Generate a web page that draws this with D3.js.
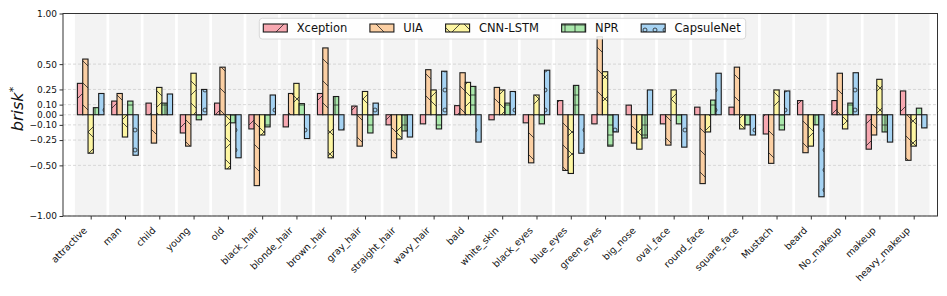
<!DOCTYPE html>
<html>
<head>
<meta charset="utf-8">
<script src="https://cdn.jsdelivr.net/npm/d3@7"></script>
<style>
body { margin: 0; background: #fff; }
text { font-family: "DejaVu Sans", sans-serif; }
</style>
</head>
<body>
<div id="chart"></div>
<script>
var categories = ["attractive", "man", "child", "young", "old", "black_hair", "blonde_hair",
    "brown_hair", "gray_hair", "straight_hair", "wavy_hair", "bald", "white_skin", "black_eyes",
    "blue_eyes", "green_eyes", "big_nose", "oval_face", "round_face", "square_face", "Mustach",
    "beard", "No_makeup", "makeup", "heavy_makeup"];

var seriesNames = ["Xception", "UIA", "CNN-LSTM", "NPR", "CapsuleNet"];

var xception = [0.31, 0.135, 0.115, -0.18, 0.115, -0.14, -0.12, 0.21, 0.086, -0.10, -0.09, 0.09, -0.05,
    -0.08, 0.14, -0.09, 0.095, -0.09, 0.075, 0.075, -0.19, 0.14, 0.14, -0.34, 0.235];
var uia = [0.55, 0.21, -0.28, -0.31, 0.47, -0.70, 0.21, 0.66, -0.31, -0.425, 0.445, 0.415, 0.27,
    -0.475, -0.55, 0.77, -0.28, -0.30, -0.68, 0.47, -0.48, -0.375, 0.41, -0.20, -0.45];
var cnnLstm = [-0.38, -0.22, 0.27, 0.41, -0.535, -0.20, 0.31, -0.425, 0.23, -0.24, 0.245, 0.32, 0.245,
    0.195, -0.58, 0.425, -0.34, 0.245, -0.17, -0.14, 0.245, -0.31, -0.14, 0.35, -0.31];
var npr = [0.07, 0.135, 0.115, -0.05, -0.08, -0.12, 0.11, 0.18, -0.18, -0.16, -0.14, 0.28, 0.115,
    -0.09, 0.29, -0.31, -0.23, -0.09, 0.145, -0.10, -0.15, -0.10, 0.115, -0.17, 0.065];
var capsuleNet = [0.21, -0.40, 0.205, 0.25, -0.425, 0.195, -0.235, -0.15, 0.115, -0.22, 0.43, -0.27, 0.23,
    0.44, -0.38, -0.17, 0.245, -0.32, 0.41, -0.20, 0.235, -0.81, 0.415, -0.27, -0.13];

var yTicks = [1, 0.5, 0.25, 0.1, 0, -0.1, -0.25, -0.5, -1];

var allSeries = [xception, uia, cnnLstm, npr, capsuleNet];
var colors = ["#f7a8b1", "#fbcfa3", "#fdf6a2", "#a9e8ab", "#a6d3f3"];
var hatches = ["/", "\\", "x", "+", "o"];

var width = 947, height = 296;
var plotLeft = 63, plotRight = 937.5, plotTop = 13.5, plotBottom = 216;

var svg = d3.select("#chart")
    .append("svg")
    .attr("width", width)
    .attr("height", height)
    .style("display", "block");

// hatch patterns
var defs = svg.append("defs");
hatches.forEach(function (h, i) {
    var size = (h == "+") ? 10 : (h == "o" ? 10 : 22);
    var ph = (h == "o") ? 20 : size;
    var p = defs.append("pattern")
        .attr("id", "hatch-" + i)
        .attr("patternUnits", "userSpaceOnUse")
        .attr("width", size)
        .attr("height", ph);
    p.append("rect").attr("width", size).attr("height", ph).attr("fill", colors[i]);
    var ln = function (x1, y1, x2, y2) {
        p.append("line").attr("x1", x1).attr("y1", y1).attr("x2", x2).attr("y2", y2)
            .attr("stroke", "#222").attr("stroke-width", 0.8);
    };
    if (h == "/" || h == "x") { ln(0, size, size, 0); ln(-2, 2, 2, -2); ln(size - 2, size + 2, size + 2, size - 2); }
    if (h == "\\" || h == "x") { ln(0, 0, size, size); ln(-2, size - 2, 2, size + 2); ln(size - 2, -2, size + 2, 2); }
    if (h == "+") { ln(0, 5, size, 5); ln(5, 0, 5, size); }
    if (h == "o") {
        p.append("circle").attr("cx", 5).attr("cy", 10).attr("r", 2)
            .attr("fill", "none").attr("stroke", "#222").attr("stroke-width", 0.8);
    }
});

var xScale = d3.scalePoint()
    .domain(categories)
    .range([90.7, 913.7]);

var step = xScale.step();

var offset = d3.scaleBand()
    .domain(seriesNames)
    .range([-13.3, 13.3]);

var yScale = d3.scaleLinear()
    .domain([-1, 1])
    .range([plotBottom, plotTop]);

// category bands
svg.append("g")
    .selectAll("rect")
    .data(categories)
    .enter()
    .append("rect")
    .attr("x", d => xScale(d) - 15.8)
    .attr("y", plotTop)
    .attr("width", 31.6)
    .attr("height", plotBottom - plotTop)
    .attr("fill", "#f3f3f3");

// grid
svg.append("g")
    .selectAll("line")
    .data(yTicks)
    .enter()
    .append("line")
    .attr("x1", plotLeft)
    .attr("x2", plotRight)
    .attr("y1", d => yScale(d))
    .attr("y2", d => yScale(d))
    .attr("stroke", "#cfcfcf")
    .attr("stroke-width", 0.8)
    .attr("stroke-dasharray", "3,2");

// bars
allSeries.forEach(function (vals, si) {
    svg.append("g")
        .selectAll("rect")
        .data(vals)
        .enter()
        .append("rect")
        .attr("x", (d, i) => xScale(categories[i]) + offset(seriesNames[si]))
        .attr("y", d => yScale(Math.max(d, 0)))
        .attr("width", offset.bandwidth())
        .attr("height", d => Math.abs(yScale(d) - yScale(0)))
        .attr("fill", "url(#hatch-" + si + ")")
        .attr("stroke", "#1a1a1a")
        .attr("stroke-width", 1.1);
});

// axes
var xAxis = d3.axisBottom(xScale).tickSize(3.5).tickSizeOuter(0).tickFormat("");
svg.append("g")
    .attr("transform", "translate(0," + plotBottom + ")")
    .call(xAxis)
    .call(g => g.select(".domain").remove())
    .call(g => g.selectAll("line").attr("stroke", "#333"));

svg.append("g")
    .selectAll("text")
    .data(categories)
    .enter()
    .append("text")
    .attr("transform", d => "translate(" + (xScale(d) - 3) + ",231) rotate(-45)")
    .attr("text-anchor", "end")
    .attr("font-size", 9.5)
    .attr("fill", "#111")
    .text(d => d);

var yAxis = d3.axisLeft(yScale)
    .tickValues(yTicks)
    .tickSize(3.5)
    .tickPadding(2.5)
    .tickFormat(d => d3.format(".2f")(d).replace("-", "\u2212"));

svg.append("g")
    .attr("transform", "translate(" + plotLeft + ",0)")
    .call(yAxis)
    .call(g => g.select(".domain").remove())
    .call(g => g.selectAll("line").attr("stroke", "#333"))
    .call(g => g.selectAll("text").attr("font-size", 9).attr("fill", "#111")
        .style("font-family", "DejaVu Sans"));

// frame
svg.append("rect")
    .attr("x", plotLeft)
    .attr("y", plotTop)
    .attr("width", plotRight - plotLeft)
    .attr("height", plotBottom - plotTop)
    .attr("fill", "none")
    .attr("stroke", "#333")
    .attr("stroke-width", 1);

// y label
var ylab = svg.append("text")
    .attr("transform", "translate(23,109) rotate(-90)")
    .attr("text-anchor", "middle")
    .attr("font-size", 16)
    .attr("fill", "#111");
ylab.append("tspan").attr("font-style", "italic").text("brisk");
ylab.append("tspan").attr("font-size", 11).attr("dy", -6).text("*");

// legend
var legend = svg.append("g");
var legendBox = legend.append("rect")
    .attr("x", 259.3)
    .attr("y", 18.3)
    .attr("height", 20.7)
    .attr("rx", 3)
    .attr("fill", "#fff")
    .attr("fill-opacity", 0.85)
    .attr("stroke", "#d0d0d0")
    .attr("stroke-width", 0.8);

var lx = 263.3;
seriesNames.forEach(function (name, i) {
    legend.append("rect")
        .attr("x", lx)
        .attr("y", 24)
        .attr("width", 24)
        .attr("height", 8)
        .attr("fill", "url(#hatch-" + i + ")")
        .attr("stroke", "#1a1a1a")
        .attr("stroke-width", 1.1);
    var t = legend.append("text")
        .attr("x", lx + 33.4)
        .attr("y", 32.3)
        .attr("font-size", 11.5)
        .attr("fill", "#111")
        .text(name);
    lx = lx + 33.4 + t.node().getComputedTextLength() + 22.6;
});
legendBox.attr("width", lx - 22.6 + 5 - 259.3);
</script>
</body>
</html>
